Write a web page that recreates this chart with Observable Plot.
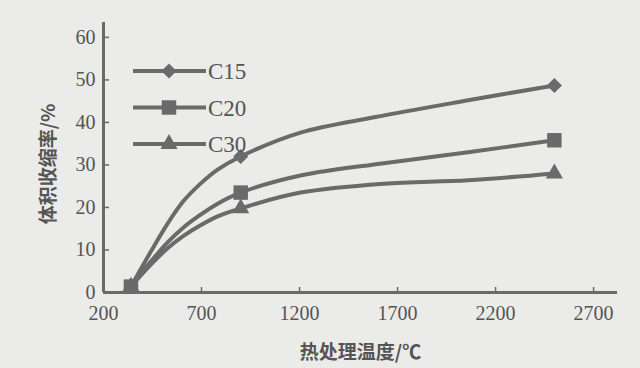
<!DOCTYPE html>
<html><head><meta charset="utf-8">
<script src="https://cdn.jsdelivr.net/npm/d3@7"></script>
<script src="https://cdn.jsdelivr.net/npm/@observablehq/plot@0.6"></script>
<style>
html,body{margin:0;padding:0;background:#ebebe9;}
#chart{position:relative;width:640px;height:368px;}
</style></head>
<body><div id="chart"></div>
<script>
// Series (temperature °C, volume shrinkage %)
const seriesNames = ["C15", "C20", "C30"];
const c15Temp = [340, 440, 527, 608, 695, 782, 900, 1205, 1580, 2060, 2500];
const c15Val  = [1.4, 9.5, 16.2, 21.5, 25.6, 28.9, 32, 37.6, 41.2, 45.2, 48.7];
const c20Temp = [340, 440, 527, 608, 695, 782, 900, 1205, 1630, 2060, 2500];
const c20Val  = [1.4, 7.2, 11.8, 15.3, 18.3, 20.9, 23.5, 27.5, 30.4, 33, 35.8];
const c30Temp = [340, 440, 527, 608, 695, 782, 900, 1205, 1630, 2060, 2500];
const c30Val  = [1.4, 6.5, 10.4, 13.3, 15.8, 17.9, 19.8, 23.5, 25.6, 26.4, 28];
// marked (symbol) temperatures
const markTemps = [340, 900, 2500];
const xTicks = [200, 700, 1200, 1700, 2200, 2700];
const yTicks = [0, 10, 20, 30, 40, 50, 60];
const xLabel = "热处理温度/℃";
const yLabel = "体积收缩率/%";

const symbols = {C15: "diamond2", C20: "square2", C30: "triangle2"};
const sizes = {C15: 6.8, C20: 9.2, C30: 8.2};
const temps = {C15: c15Temp, C20: c20Temp, C30: c30Temp};
const vals = {C15: c15Val, C20: c20Val, C30: c30Val};

const lineData = seriesNames.flatMap(s => temps[s].map((t, i) => ({s, t, v: vals[s][i]})));
const markData = lineData.filter(d => markTemps.includes(d.t));
const drawOrder = ["C30", "C15", "C20"];

const ink = "#6a6a6a";
const txt = "#555555";
const serif = "'Liberation Serif', 'DejaVu Serif', serif";
const cjk = "'Noto Sans CJK SC', sans-serif";

const plot = Plot.plot({
  width: 640, height: 368,
  marginLeft: 103, marginRight: 23, marginTop: 22, marginBottom: 76,
  style: {background: "transparent", fontSize: "19px", color: txt},
  x: {domain: [200, 2822]},
  y: {domain: [0, 63.5]},
  marks: [
    Plot.axisX({ticks: xTicks, tickSize: -5, tickFormat: () => "", stroke: ink, strokeWidth: 1.5, label: null}),
    Plot.axisX({ticks: xTicks, tickSize: 0, tickPadding: 13, tickFormat: d => String(d), fill: txt,
      label: xLabel, labelAnchor: "center", labelOffset: 66, labelArrow: "none"}),
    Plot.axisY({ticks: yTicks, tickSize: -6, tickFormat: () => "", stroke: ink, strokeWidth: 1.5, label: null}),
    Plot.axisY({ticks: yTicks, tickSize: 0, tickPadding: 8, tickFormat: d => String(d), fill: txt,
      label: null}),
    Plot.ruleY([0], {stroke: ink, strokeWidth: 3}),
    Plot.ruleX([200], {stroke: ink, strokeWidth: 3}),
    Plot.line(lineData, {x: "t", y: "v", z: "s", stroke: ink, strokeWidth: 4, curve: "catmull-rom"}),
    ...drawOrder.map(s => Plot.dot(markData.filter(d => d.s === s), {
      x: "t", y: "v", symbol: () => symbols[s], r: sizes[s], fill: ink, stroke: "none"
    }))
  ]
});
document.getElementById("chart").appendChild(plot);

const svg = d3.select(plot);
svg.attr("font-family", serif);
svg.selectAll("g").attr("font-family", null);
svg.selectAll("text").each(function(){
  const t = d3.select(this);
  if (t.text() === xLabel) {
    t.attr("font-family", cjk).attr("font-size", 19).attr("font-weight", 600).attr("fill", txt);
  } else {
    t.attr("font-family", serif).attr("font-size", 20);
  }
});

// y axis title
svg.append("text")
  .attr("transform", "translate(50,164) rotate(-90)")
  .attr("text-anchor", "middle").attr("dominant-baseline", "middle")
  .attr("font-family", cjk).attr("font-size", 19).attr("font-weight", 600).attr("fill", txt)
  .text(yLabel);

// legend
const leg = svg.append("g").attr("transform", "translate(133,71)");
const legSym = {C15: d3.symbolDiamond2, C20: d3.symbolSquare2, C30: d3.symbolTriangle2};
seriesNames.forEach((s, i) => {
  const g = leg.append("g").attr("transform", `translate(0,${i * 36.5})`);
  g.append("line").attr("x1", 0).attr("x2", 73).attr("y1", 0).attr("y2", 0)
    .attr("stroke", ink).attr("stroke-width", 4);
  g.append("path").attr("transform", "translate(36,0)")
    .attr("d", d3.symbol(legSym[s], sizes[s] * sizes[s] * Math.PI)())
    .attr("fill", ink);
  g.append("text").attr("x", 75).attr("y", 8).attr("text-anchor", "start")
    .attr("font-family", serif).attr("font-size", 23).attr("fill", txt).text(s);
});
</script></body></html>
